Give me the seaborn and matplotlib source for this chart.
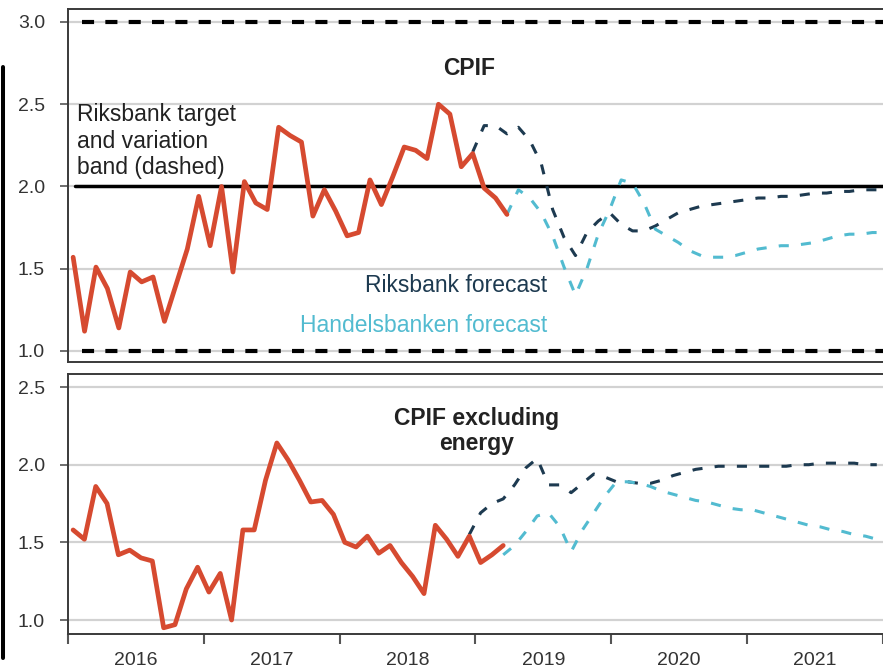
import matplotlib
matplotlib.use("Agg")
import numpy as np
import pandas as pd
import seaborn as sns
import matplotlib.pyplot as plt
from matplotlib.lines import Line2D

# ---------------- data (monthly, start Jan 2016) ----------------
start_year = 2016
years = [2016, 2017, 2018, 2019, 2020, 2021]

# outcomes Jan 2016 .. Mar 2019
cpif = [1.57, 1.12, 1.51, 1.38, 1.14, 1.48, 1.42, 1.45, 1.18, 1.40, 1.62, 1.94,
        1.64, 2.00, 1.48, 2.03, 1.90, 1.86, 2.36, 2.31, 2.27, 1.82, 1.98, 1.85,
        1.70, 1.72, 2.04, 1.89, 2.06, 2.24, 2.22, 2.17, 2.50, 2.44, 2.12, 2.20,
        1.99, 1.93, 1.83]
cpif_xe = [1.58, 1.52, 1.86, 1.75, 1.42, 1.45, 1.40, 1.38, 0.95, 0.97, 1.20, 1.34,
           1.18, 1.30, 1.00, 1.58, 1.58, 1.90, 2.14, 2.03, 1.90, 1.76, 1.77, 1.68,
           1.50, 1.47, 1.54, 1.43, 1.48, 1.37, 1.28, 1.17, 1.61, 1.52, 1.41, 1.54,
           1.37, 1.42, 1.48]

# Riksbank forecast Dec 2018 .. Dec 2021
rb_start = 35
rb_cpif = [2.21,
           2.37, 2.37, 2.32, 2.36, 2.28, 2.14, 1.86, 1.69, 1.58, 1.72, 1.79, 1.84,
           1.77, 1.73, 1.73, 1.76, 1.80, 1.84, 1.86, 1.88, 1.89, 1.90, 1.91, 1.92,
           1.93, 1.93, 1.94, 1.94, 1.95, 1.96, 1.96, 1.97, 1.97, 1.98, 1.98, 1.98]
rb_xe = [1.55,
         1.69, 1.75, 1.78, 1.87, 1.98, 2.04, 1.87, 1.87, 1.82, 1.88, 1.94, 1.92,
         1.89, 1.89, 1.88, 1.88, 1.90, 1.93, 1.95, 1.97, 1.98, 1.99, 1.99, 1.99,
         1.99, 1.99, 1.99, 1.99, 2.00, 2.00, 2.01, 2.01, 2.01, 2.01, 2.00, 2.00]

# Handelsbanken forecast Mar 2019 .. Dec 2021
hb_start = 38
hb_cpif = [1.83,
           1.98, 1.93, 1.84, 1.70, 1.51, 1.34, 1.50, 1.71, 1.86,
           2.04, 2.02, 1.90, 1.74, 1.70, 1.66, 1.61, 1.58, 1.57, 1.57, 1.58, 1.60,
           1.62, 1.63, 1.64, 1.64, 1.65, 1.66, 1.68, 1.70, 1.71, 1.71, 1.72, 1.72]
hb_xe = [1.42,
         1.48, 1.57, 1.67, 1.69, 1.60, 1.44, 1.58, 1.69, 1.80,
         1.89, 1.89, 1.88, 1.86, 1.83, 1.81, 1.79, 1.77, 1.76, 1.74, 1.72, 1.71,
         1.71, 1.69, 1.67, 1.65, 1.63, 1.61, 1.60, 1.58, 1.57, 1.55, 1.54, 1.52]

target = 2.0
band = [1.0, 3.0]

top_ticks = [1.0, 1.5, 2.0, 2.5, 3.0]
bot_ticks = [1.0, 1.5, 2.0, 2.5]

# ---------------- style ----------------
sns.set_style("white")
plt.rcParams["font.family"] = ["Liberation Sans", "DejaVu Sans"]

RED = "#d64a30"
NAVY = "#1d3a50"
CYAN = "#52bbd0"
TXT = "#222222"


def t_of(idx):
    return start_year + (np.asarray(idx) + 0.45) / 12.0


def frame(values, start):
    idx = np.arange(start, start + len(values))
    return pd.DataFrame({"t": t_of(idx), "v": values})


fig = plt.figure(figsize=(8.83, 6.69), dpi=100)
W, H = 883, 669
L = 68
ax1 = fig.add_axes([L / W, 1 - 362 / H, 1 - L / W, (362 - 9) / H])
ax2 = fig.add_axes([L / W, 1 - 634 / H, 1 - L / W, (634 - 374) / H])

xmax = start_year + (W - L) / 137.0

for ax, ticks, ylim in [(ax1, top_ticks, (0.933, 3.079)), (ax2, bot_ticks, (0.91, 2.584))]:
    ax.set_xlim(start_year, xmax)
    ax.set_ylim(*ylim)
    ax.set_yticks(ticks)
    ax.set_yticklabels([f"{v:.1f}" for v in ticks])
    ax.yaxis.grid(True, color="#d2d2d2", lw=1.6)
    ax.xaxis.grid(False)
    ax.set_axisbelow(True)
    for s in ["left", "top", "bottom"]:
        ax.spines[s].set_color("#3a3a3a")
        ax.spines[s].set_linewidth(1.4)
    ax.spines["right"].set_visible(False)
    ax.tick_params(axis="y", left=True, length=6, width=1.2, color="#555555",
                   labelsize=14, pad=10.5, labelcolor="#333333")

# ---------------- top panel ----------------
ax1.axhline(target, xmin=0.009, color="black", lw=2.5, zorder=2)
for b in band:
    ax1.axhline(b, xmin=0.017, color="black", lw=3.0, linestyle=(0, (2.9, 2.7)), zorder=2)

sns.lineplot(data=frame(rb_cpif, rb_start), x="t", y="v", ax=ax1, color=NAVY,
             lw=2.2, linestyle=(0, (3.3, 4.0)), zorder=3)
sns.lineplot(data=frame(hb_cpif, hb_start), x="t", y="v", ax=ax1, color=CYAN,
             lw=2.2, linestyle=(0, (3.3, 4.0)), zorder=3)
sns.lineplot(data=frame(cpif, 0), x="t", y="v", ax=ax1, color=RED, lw=3.4,
             zorder=4, solid_joinstyle="round")

ax1.tick_params(axis="x", bottom=False, labelbottom=False)
ax1.set_xlabel("")
ax1.set_ylabel("")

ax1.text(2018.93, 2.68, "CPIF", ha="center", va="baseline", fontsize=16.5,
         fontweight="bold", color=TXT)
ax1.text(2016.066, 2.073, "Riksbank target\nand variation\nband (dashed)",
         ha="left", va="baseline", fontsize=16.5, color=TXT, linespacing=1.2)
ax1.text(2019.496, 1.356, "Riksbank forecast", ha="right", va="baseline",
         fontsize=16.5, color=NAVY)
ax1.text(2019.496, 1.114, "Handelsbanken forecast", ha="right", va="baseline",
         fontsize=16.5, color=CYAN)

# ---------------- bottom panel ----------------
sns.lineplot(data=frame(rb_xe, rb_start), x="t", y="v", ax=ax2, color=NAVY,
             lw=2.2, linestyle=(0, (3.3, 4.0)), zorder=3)
sns.lineplot(data=frame(hb_xe, hb_start), x="t", y="v", ax=ax2, color=CYAN,
             lw=2.2, linestyle=(0, (3.3, 4.0)), zorder=3)
sns.lineplot(data=frame(cpif_xe, 0), x="t", y="v", ax=ax2, color=RED, lw=3.4,
             zorder=4, solid_joinstyle="round")
ax2.set_xlabel("")
ax2.set_ylabel("")

ax2.text(2019.007, 2.097, "CPIF excluding\nenergy", ha="center", va="baseline",
         fontsize=16.5, fontweight="bold", color=TXT, linespacing=1.1)

ax2.set_xticks(list(range(years[0], years[-1] + 2)))
ax2.set_xticklabels([])
ax2.set_xticks([y + 0.5 for y in years], minor=True)
ax2.set_xticklabels([str(y) for y in years], minor=True)
ax2.tick_params(axis="x", which="major", bottom=True, length=7, width=1.5,
                color="#555555", direction="out")
ax2.tick_params(axis="x", which="minor", bottom=True, length=0, labelsize=14,
                pad=13, labelcolor="#333333")

# cropped edge artefact at the far left of the source image
fig.add_artist(Line2D([3.5 / W, 3.5 / W], [1 - 658 / H, 1 - 67 / H],
                      transform=fig.transFigure, color="black", lw=2.9))

fig.savefig("out.png", dpi=100)
